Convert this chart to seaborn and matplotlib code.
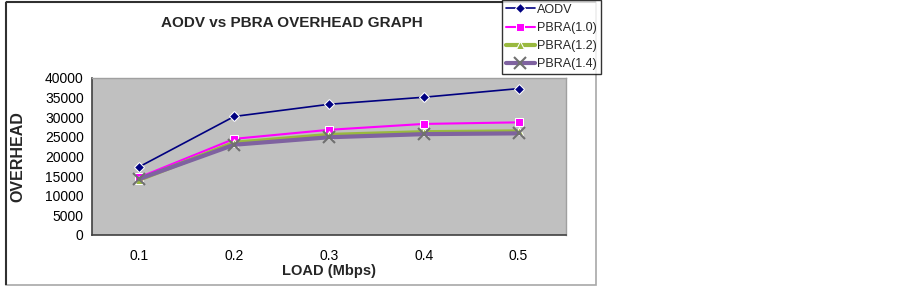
import pandas as pd
import matplotlib
matplotlib.use("Agg")
import matplotlib.pyplot as plt
import seaborn as sns
from matplotlib.patches import Rectangle
from matplotlib.ticker import FixedLocator

# values
load = ['0.1', '0.2', '0.3', '0.4', '0.5']
aodv = [17400, 30200, 33300, 35100, 37300]
pbra_10 = [14700, 24500, 26800, 28300, 28700]
pbra_12 = [14100, 23500, 25500, 26200, 26400]
pbra_14 = [14300, 23000, 24900, 25700, 25900]

series = {
    'AODV': aodv,
    'PBRA(1.0)': pbra_10,
    'PBRA(1.2)': pbra_12,
    'PBRA(1.4)': pbra_14,
}

rows = []
for name, vals in series.items():
    for x, v in zip(load, vals):
        rows.append({'LOAD': x, 'OVERHEAD': v, 'Series': name})
df = pd.DataFrame(rows)

sns.set_style("white")
plt.rcParams['font.family'] = ['Liberation Sans', 'DejaVu Sans']

fig = plt.figure(figsize=(9.02, 2.87), dpi=100)
ax = fig.add_axes([92 / 902, 52 / 287, 474 / 902, 157 / 287])
ax.set_facecolor('#C0C0C0')

# style per series
styles = {
    'AODV': dict(color='#000080', marker='D', markersize=5, linewidth=1.2),
    'PBRA(1.0)': dict(color='#FF00FF', marker='s', markersize=6, linewidth=1.5),
    'PBRA(1.2)': dict(color='#99B93F', marker='^', markersize=6, linewidth=3),
    'PBRA(1.4)': dict(color='#7F62A0', marker='x', markersize=8, linewidth=3,
                      markeredgecolor='#707070', markeredgewidth=1.5),
}

for name in series:
    sns.lineplot(data=df[df['Series'] == name], x='LOAD', y='OVERHEAD',
                 ax=ax, label=name, sort=False, **styles[name])

ax.set_xlim(-0.5, 4.5)
ax.set_ylim(0, 40000)
ax.set_yticks(range(0, 40001, 5000))
ax.set_xticks(range(len(load)))
ax.set_xticklabels(load, fontsize=10)
ax.xaxis.set_minor_locator(FixedLocator([i - 0.5 for i in range(len(load) + 1)]))
ax.tick_params(axis='x', which='major', length=0, pad=10)
ax.tick_params(axis='x', which='minor', length=5, width=1, color='#404040', direction='out')
ax.tick_params(axis='y', length=4, width=1, color='#404040', direction='out', labelsize=10, pad=2)
ax.tick_params(axis='both', labelcolor='black')

for side in ['left', 'bottom']:
    ax.spines[side].set_color('#404040')
    ax.spines[side].set_linewidth(1.2)
for side in ['top', 'right']:
    ax.spines[side].set_color('#A0A0A0')
    ax.spines[side].set_linewidth(1)

ax.set_xlabel('LOAD (Mbps)', fontsize=10.5, fontweight='bold', labelpad=1)
ax.set_ylabel('OVERHEAD', fontsize=11.5, fontweight='bold', labelpad=14)

fig.text(292 / 902, 1 - 23 / 287, 'AODV vs PBRA OVERHEAD GRAPH',
         ha='center', va='center', fontsize=11, fontweight='bold')

# legend box in the top right corner of the chart area
handles, labels = ax.get_legend_handles_labels()
ax.legend_.remove()
leg = fig.legend(handles, labels, loc='upper left',
                 bbox_to_anchor=(502 / 902, 1 - 0 / 287),
                 frameon=True, fancybox=False, fontsize=9,
                 handlelength=2.3, handletextpad=0.2, labelspacing=0.5,
                 borderpad=0.3, borderaxespad=0)
leg.get_frame().set_edgecolor('black')
leg.get_frame().set_linewidth(1)

# outer chart border
fig.patches.append(Rectangle((6 / 902, 2 / 287), 590 / 902, 283 / 287,
                             transform=fig.transFigure, fill=False,
                             edgecolor='#A8A8A8', linewidth=1.2, zorder=0))
fig.patches.append(Rectangle((6 / 902, 2 / 287), 0, 283 / 287,
                             transform=fig.transFigure, fill=False,
                             edgecolor='#303030', linewidth=1.5, zorder=0))
fig.patches.append(Rectangle((6 / 902, 285 / 287), 590 / 902, 0,
                             transform=fig.transFigure, fill=False,
                             edgecolor='#303030', linewidth=1.5, zorder=0))

fig.savefig('out.png', dpi=100)
